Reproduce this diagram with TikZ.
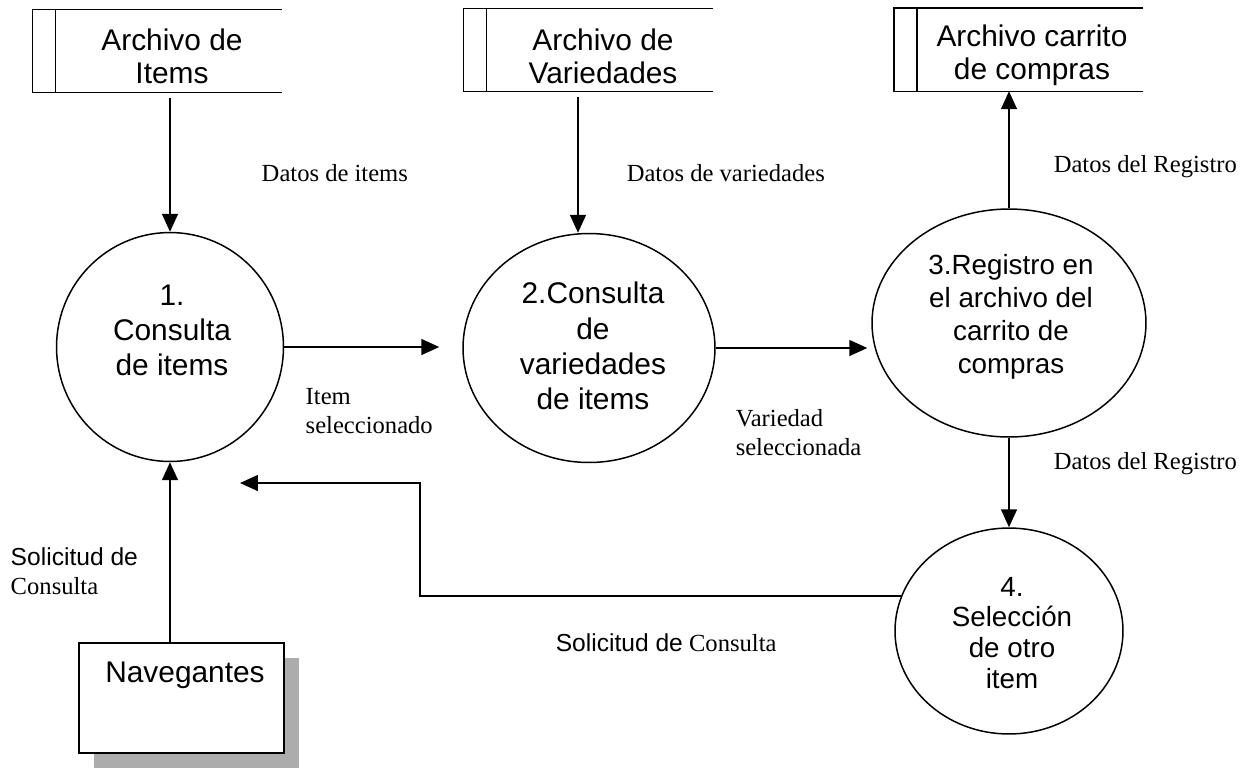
\documentclass[tikz,border=0pt]{standalone}
\usepackage{fontspec}
\setmainfont{Liberation Serif}
\newfontfamily\arialf{Liberation Sans}
\usetikzlibrary{arrows.meta,shapes.geometric,calc,shadows}
\begin{document}
\begin{tikzpicture}[x=0.02cm,y=-0.02cm,
  line width=0.85pt,
  arr/.style={-{Triangle[length=0.36cm,width=0.32cm]}},
  proc/.style={draw, ellipse, inner sep=0pt},
  storetxt/.style={font=\arialf\fontsize{17}{18.8}\selectfont, align=center, inner sep=0pt},
  bigtxt/.style={font=\arialf\fontsize{17}{20}\selectfont, align=center, inner sep=0pt},
  midtxt/.style={font=\arialf\fontsize{15.8}{18.8}\selectfont, align=center, inner sep=0pt},
  smalltxt/.style={font=\arialf\fontsize{15.8}{17.6}\selectfont, align=center, inner sep=0pt},
  lbl/.style={font=\fontsize{14}{16.5}\selectfont, align=left, anchor=west, inner sep=0pt},
  storebox/.style={minimum width=4.5cm, minimum height=1.64cm, inner sep=0pt},
]
\useasboundingbox (0,0) rectangle (1255,769);

% data stores
\node[storebox] (st1) at (168.5,51) {};
\node[storebox] (st2) at (599.5,50) {};
\node[storebox] (st3) at (1030,49.5) {};
\foreach \s in {st1,st2,st3}{
  \draw (\s.north east) -- (\s.north west) -- ++(-23,0) |- (\s.south east);
  \draw (\s.north west) -- (\s.south west);
}
\node[storetxt] (st1t) at (172,56.5) {Archivo de\\Items};
\node[storetxt] (st2t) at (603,56) {Archivo de\\Variedades};
\node[storetxt] (st3t) at (1032,55) {Archivo carrito\\de compras};

% processes
\node[proc, minimum width=4.54cm, minimum height=4.58cm] (c1) at (170,347) {};
\node[proc, minimum width=5.04cm, minimum height=4.58cm] (c2) at (589,348) {};
\node[proc, minimum width=5.48cm, minimum height=4.56cm] (c3) at (1009,323) {};
\node[proc, minimum width=4.56cm, minimum height=4.12cm] (c4) at (1009,631) {};
\node[bigtxt] (c1t) at (172,330) {1.\\Consulta\\de items};
\node[bigtxt] (c2t) at (593,346) {2.Consulta\\de\\variedades\\de items};
\node[midtxt] (c3t) at (1011,317) {3.Registro en\\el archivo del\\carrito de\\compras};
\node[smalltxt] (c4t) at (1012,633) {4.\\Selección\\de otro\\item};

% external entity
\node[draw, fill=white, minimum width=4.1cm, minimum height=2.2cm, inner sep=0pt,
  drop shadow={shadow xshift=0.3cm, shadow yshift=-0.3cm, fill=gray!65, opacity=1}]
  (nav) at (181.5,698) {};
\node[storetxt] (navt) at (185,675) {Navegantes};

% flows
\draw[arr, shorten <=0.1cm] (st1.south -| c1) -- (c1.north);
\coordinate (a2) at ($(c2.north)+(-11,0)$);
\draw[arr, shorten <=0.1cm] (a2 |- st2.south) -- (a2);
\draw[arr] (c3.north) -- (c3.north |- st3.south);
\draw[arr, shorten >=0.46cm] (c1.east) -- (c1.east -| c2.west);
\draw[arr, shorten >=0.08cm] (c2.east) -- (c2.east -| c3.west);
\draw[arr] (c3.south) -- (c4.north);
\coordinate (fbcorner) at (420,483);
\coordinate (fbend) at (240,483);
\draw[arr] (c4.162) -| (fbcorner) -- (fbend);
\draw[arr] (nav.north -| c1) -- (c1.south);

% labels
\node[lbl] (l1) at (261,173) {Datos de items};
\node[lbl] (l2) at (626,173) {Datos de variedades};
\node[lbl] (l3) at (1053,167) {Datos del Registro};
\node[lbl] (l4) at (1053,464) {Datos del Registro};
\node[lbl] (l5) at (305,411) {Item\\seleccionado};
\node[lbl] (l6) at (735,433) {Variedad\\seleccionada};
\node[lbl] (l7) at (10,571) {{\arialf Solicitud de}\\Consulta};
\node[lbl] (l8) at (555,643) {{\arialf Solicitud de} Consulta};
\end{tikzpicture}
\end{document}
